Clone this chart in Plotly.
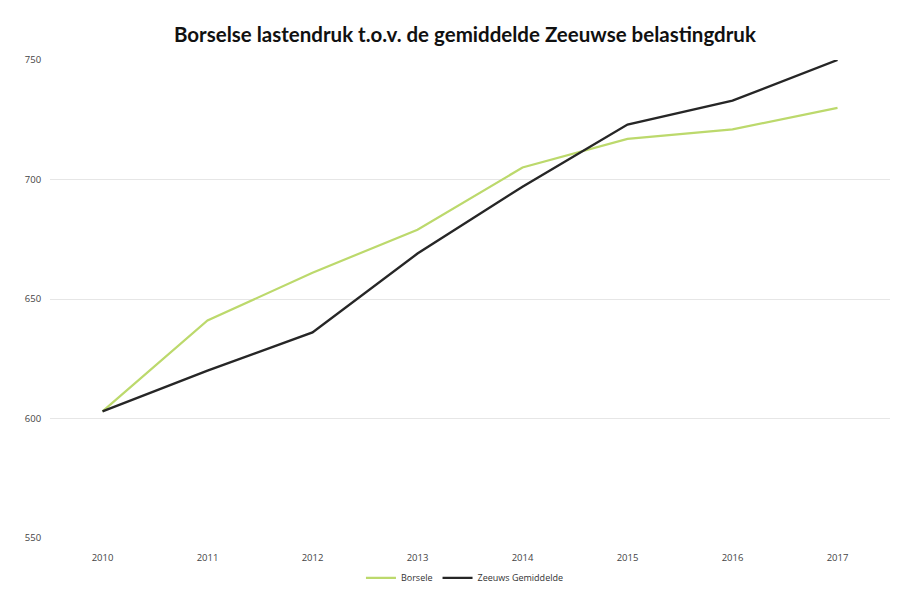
import plotly.graph_objects as go

years = ["2010", "2011", "2012", "2013", "2014", "2015", "2016", "2017"]
borsele = [603, 641, 661, 679, 705, 717, 721, 730]
zeeuws = [603, 620, 636, 669, 697, 723, 733, 750]
y_ticks = [550, 600, 650, 700, 750]

fig = go.Figure()
fig.add_trace(go.Scatter(x=years, y=borsele, mode="lines", name="Borsele",
                         line=dict(color="#bcd96c", width=2.2)))
fig.add_trace(go.Scatter(x=years, y=zeeuws, mode="lines", name="Zeeuws Gemiddelde",
                         line=dict(color="#262626", width=2.4)))

fig.update_layout(
    width=899, height=598,
    paper_bgcolor="white", plot_bgcolor="white",
    margin=dict(l=42, r=17, t=52, b=68, autoexpand=False),
    title=dict(text="<b>Borselse lastendruk t.o.v. de gemiddelde Zeeuwse belastingdruk</b>",
               x=0.494, xanchor="center", xref="paper", yref="container",
               y=0.955, yanchor="middle",
               font=dict(family="Lato, Open Sans, sans-serif", size=20.5, color="#111111")),
    font=dict(family="Open Sans, sans-serif", size=10, color="#444444"),
    showlegend=True,
    legend=dict(orientation="h", x=0.494, xanchor="center", yref="container",
                y=0.047, yanchor="middle",
                font=dict(size=9, color="#333333"), itemwidth=30),
    xaxis=dict(type="category", range=[-0.5, 7.5], showgrid=False, showline=False,
               automargin=False,
               ticks="outside", ticklen=0, ticklabelstandoff=11,
               tickfont=dict(size=9.5, color="#444444")),
    yaxis=dict(range=[550, 750], tickvals=y_ticks, showgrid=True, automargin=False,
               gridcolor="#e6e6e6", gridwidth=1, zeroline=False, showline=False,
               ticks="outside", ticklen=0, ticklabelstandoff=6,
               tickfont=dict(size=9.5, color="#444444")),
)

fig.write_html("out.html")
